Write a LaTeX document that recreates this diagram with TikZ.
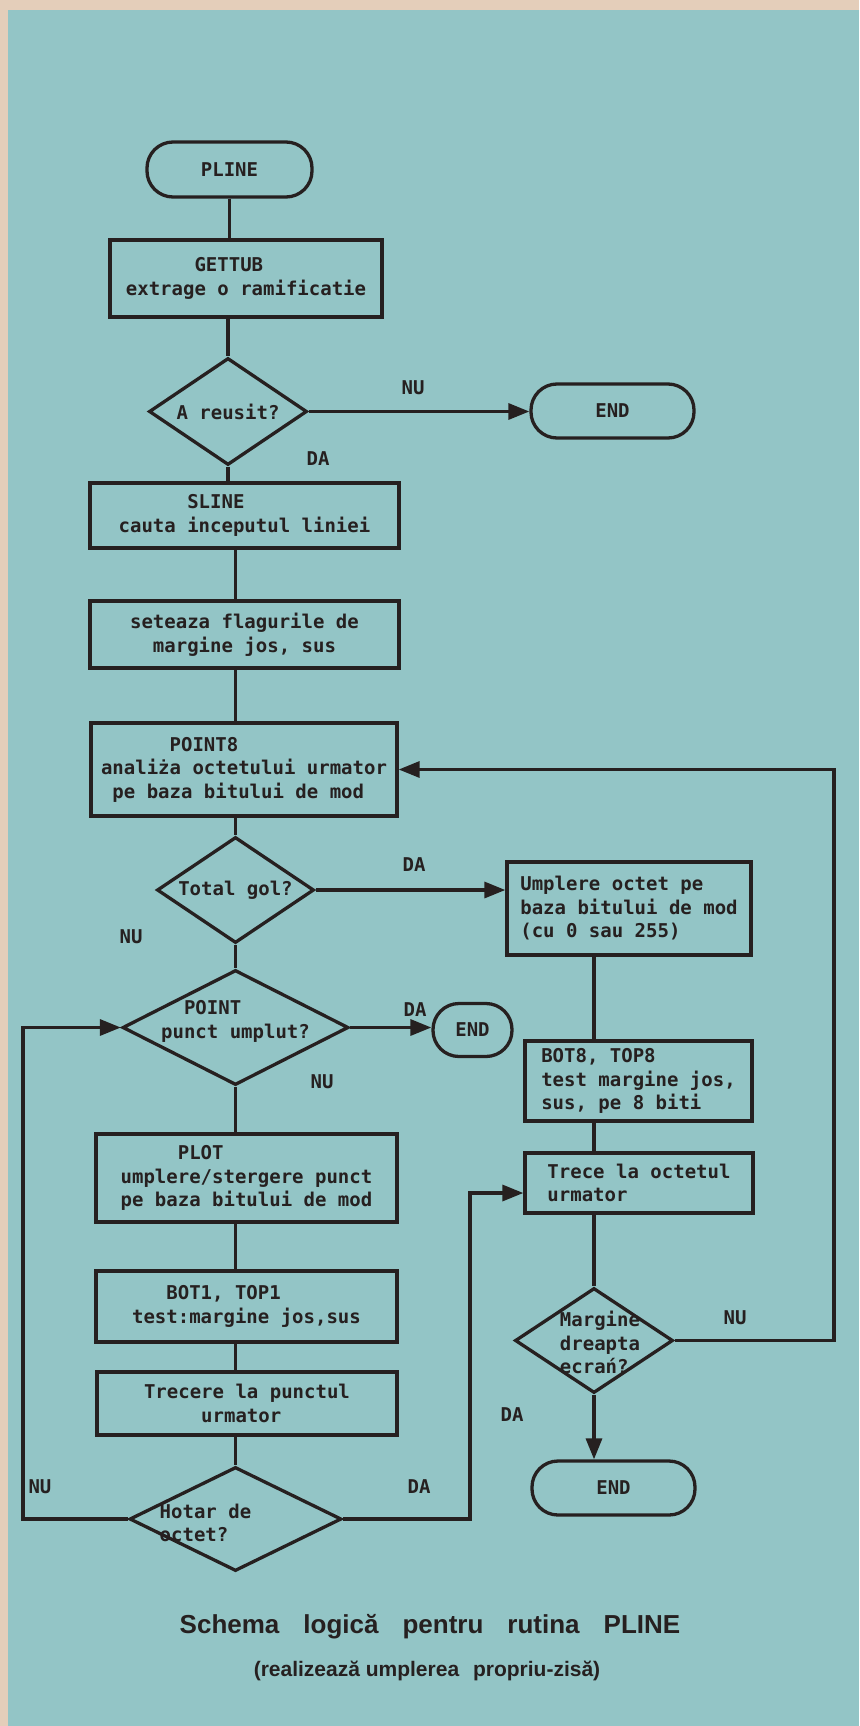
\documentclass[tikz,border=0pt]{standalone}
\usepackage{fontspec}
\setmainfont{Liberation Sans}
\setmonofont{DejaVu Sans Mono}
\usetikzlibrary{arrows.meta,shapes.geometric}
\definecolor{paper}{RGB}{147,197,198}
\definecolor{edge}{RGB}{228,206,186}
\definecolor{ink}{RGB}{38,32,32}
\newcommand{\cols}[1]{\hspace*{\dimexpr 0.602em*#1\relax}}
\tikzset{
  every node/.style={font=\ttfamily\bfseries\fontsize{19}{23.5}\selectfont, text=ink},
  box/.style={draw=ink, line width=3.3pt, rectangle, align=left, inner sep=0pt},
  term/.style={draw=ink, line width=3.3pt, rectangle, rounded corners=26pt, inner sep=0pt},
  dec/.style={draw=ink, line width=3.3pt, diamond, inner sep=0pt},
  flow/.style={draw=ink, line width=3.3pt},
  arr/.style={draw=ink, line width=3.3pt, -{Triangle[length=21pt,width=16pt]}},
}
\begin{document}
\begin{tikzpicture}[x=1pt,y=-1pt]
  % paper
  \fill[edge] (0,0) rectangle (859,1726);
  \fill[paper] (8,10) rectangle (859,1726);
  \useasboundingbox (0,0) rectangle (859,1726);

  % left column
  \node[term, minimum width=165pt, minimum height=55pt] (pline) at (229.5,169.5) {PLINE};
  \node[box, minimum width=272pt, minimum height=77pt] (gettub) at (246,278.5) {\cols{6}GETTUB\\extrage o ramificatie};
  \node[dec, minimum width=158pt, minimum height=107pt, label=center:{A reusit?}] (reusit) at (228,411.5) {};
  \node[term, minimum width=163pt, minimum height=54pt] (end1) at (612.5,411) {END};
  \node[box, minimum width=309pt, minimum height=65pt] (sline) at (244.5,515.5) {\cols{6}SLINE\\cauta inceputul liniei};
  \node[box, minimum width=309pt, minimum height=67pt] (flags) at (244.5,634.5) {seteaza flagurile de\\\cols{2}margine jos, sus};
  \node[box, minimum width=306pt, minimum height=93pt] (point8) at (244,769.5) {\cols{6}POINT8\\analiża octetului urmator\\\cols{1}pe baza bitului de mod};
  \node[dec, minimum width=157pt, minimum height=106pt, label=center:{Total gol?}] (gol) at (235.5,890) {};
  \node[dec, minimum width=226pt, minimum height=115pt, label={[align=left,yshift=6pt]center:{\cols{2}POINT\\punct umplut?}}] (punct) at (235.5,1027.5) {};
  \node[term, minimum width=79pt, minimum height=53pt] (end2) at (472.5,1030) {END};
  \node[box, minimum width=301pt, minimum height=88pt] (plot) at (246.5,1178) {\cols{5}PLOT\\umplere/stergere punct\\pe baza bitului de mod};
  \node[box, minimum width=301pt, minimum height=71pt] (bot1) at (246.5,1306.5) {\cols{3}BOT1, TOP1\\test:margine jos,sus};
  \node[box, minimum width=300pt, minimum height=63pt] (trecere) at (247,1403.5) {Trecere la punctul\\\cols{5}urmator};
  \node[dec, minimum width=212pt, minimum height=104pt, label={[align=left,xshift=-30pt,yshift=-4pt]center:{Hotar de\\octet?}}] (hotar) at (235.5,1519) {};

  % right column
  \node[box, minimum width=244pt, minimum height=93pt] (umplere) at (629,908.5) {Umplere octet pe\\baza bitului de mod\\(cu 0 sau 255)};
  \node[box, minimum width=227pt, minimum height=80pt] (bot8) at (638.5,1081) {BOT8, TOP8\\test margine jos,\\sus, pe 8 biti};
  \node[box, minimum width=228pt, minimum height=60pt] (trece) at (639,1183) {Trece la octetul\\urmator};
  \node[dec, minimum width=158pt, minimum height=105pt, label={[align=left,xshift=6pt,yshift=-2pt]center:{Margine\\dreapta\\ecrań?}}] (margine) at (594,1340.5) {};
  \node[term, minimum width=163pt, minimum height=54pt] (end3) at (613.5,1488) {END};

  % free corners of the loops
  \coordinate (lft) at (23,1519);
  \coordinate (mid) at (470,1519);
  \coordinate (rgt) at (834,1340.5);

  % connectors
  \draw[flow] (pline.south) -- (pline.south |- gettub.north);
  \draw[flow] (reusit.north |- gettub.south) -- (reusit.north);
  \draw[arr] (reusit.east) -- (reusit.east -| end1.west);
  \draw[flow] (reusit.south) -- (reusit.south |- sline.north);
  \draw[flow] (gol.north |- sline.south) -- (gol.north |- flags.north);
  \draw[flow] (gol.north |- flags.south) -- (gol.north |- point8.north);
  \draw[flow] (gol.north |- point8.south) -- (gol.north);
  \draw[arr] (gol.east) -- (gol.east -| umplere.west);
  \draw[flow] (gol.south) -- (punct.north);
  \draw[arr] (punct.east) -- (punct.east -| end2.west);
  \draw[flow] (punct.south) -- (punct.south |- plot.north);
  \draw[flow] (punct.south |- plot.south) -- (punct.south |- bot1.north);
  \draw[flow] (punct.south |- bot1.south) -- (punct.south |- trecere.north);
  \draw[flow] (hotar.north |- trecere.south) -- (hotar.north);
  \draw[arr] (hotar.west) -- (lft) |- (punct.west);
  \draw[arr] (hotar.east) -- (mid) |- ([yshift=-10pt]trece.west);
  \draw[flow] (margine.north |- umplere.south) -- (margine.north |- bot8.north);
  \draw[flow] (margine.north |- bot8.south) -- (margine.north |- trece.north);
  \draw[flow] (margine.north |- trece.south) -- (margine.north);
  \draw[arr] (margine.east) -- (rgt) |- (point8.east);
  \draw[arr] (margine.south) -- (margine.south |- end3.north);

  % branch labels
  \node (nu1) at (413,388) {NU};
  \node (da1) at (318,459) {DA};
  \node (da2) at (414,865) {DA};
  \node (nu2) at (131,937) {NU};
  \node (da3) at (415,1010) {DA};
  \node (nu3) at (322,1082) {NU};
  \node (nu4) at (735,1318) {NU};
  \node (da4) at (512,1415) {DA};
  \node (nu5) at (40,1487) {NU};
  \node (da5) at (419,1487) {DA};

  % caption
  \node[font=\rmfamily\bfseries\fontsize{26}{30}\selectfont] (title) at (430,1627)
    {\spaceskip=24pt\relax Schema logică pentru rutina PLINE};
  \node[font=\rmfamily\bfseries\fontsize{21}{25}\selectfont] (subtitle) at (427,1671)
    {(realizează umplerea\hspace{8pt} propriu-zisă)};
\end{tikzpicture}
\end{document}
